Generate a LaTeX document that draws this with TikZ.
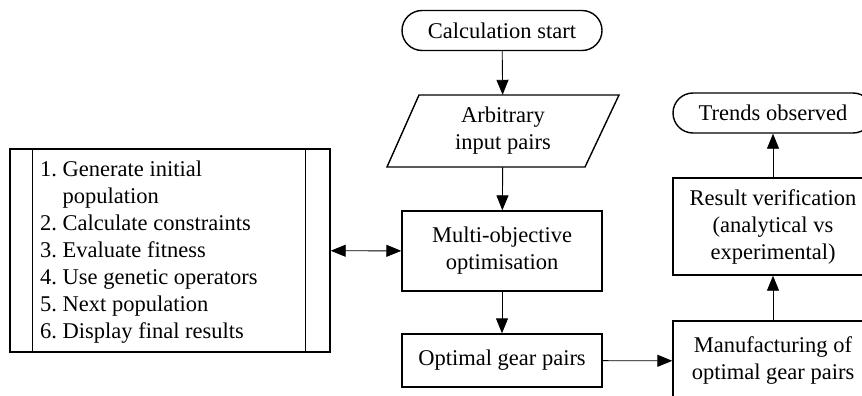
\documentclass[tikz,border=0pt]{standalone}
\usepackage{fontspec}
\setmainfont{Liberation Serif}
\usetikzlibrary{arrows.meta,calc}
\begin{document}
\begin{tikzpicture}[x=1pt,y=-1pt,
  txt/.style={align=center, font=\fontsize{22.5}{27}\selectfont, inner sep=0pt},
  box/.style={txt, draw, line width=1.4pt, minimum width=200pt},
  term/.style={box, rounded corners=20pt, minimum height=40pt},
  conn/.style={line width=0.9pt, -{Triangle[length=15pt,width=12pt]}},
  dconn/.style={line width=0.9pt, {Triangle[length=15pt,width=12pt]}-{Triangle[length=15pt,width=12pt]}}
]
\clip (0,0) rectangle (862,396);
\fill[white] (0,0) rectangle (862,396);
% centre column
\node[term] (start) at (502,30.5) {Calculation start};
\node[txt, minimum width=166pt, minimum height=72pt] (input) at (503,131) {Arbitrary\\input pairs};
\draw[line width=1.4pt, line join=miter] (419,95) -- (619,95) -- (585,167) -- (387,167) -- cycle;
\node[box, minimum height=80pt] (multi) at (502,251) {Multi-objective\\optimisation};
\node[box, minimum height=53pt] (opt) at (502,360.5) {Optimal gear pairs};
% right column
\node[box, minimum height=80pt] (manu) at (773,361) {Manufacturing of\\optimal gear pairs};
\node[box, minimum height=97pt] (res) at (773,226.5) {Result verification\\(analytical vs\\experimental)};
\node[term] (trend) at (773,113) {Trends observed};
% left algorithm box
\node[draw, line width=1.4pt, minimum width=320pt, minimum height=203pt, inner sep=0pt] (alg) at (170,250.5) {};
\draw[line width=1.4pt] ($(alg.north west)+(23,0)$) -- ($(alg.south west)+(23,0)$);
\draw[line width=1.4pt] ($(alg.north east)+(-25,0)$) -- ($(alg.south east)+(-25,0)$);
\node[txt, anchor=west] (steps) at (40,252) {\begin{tabular}{@{}l@{\ }l@{}}
1. & Generate initial\\
   & population\\
2. & Calculate constraints\\
3. & Evaluate fitness\\
4. & Use genetic operators\\
5. & Next population\\
6. & Display final results
\end{tabular}};
% connectors
\draw[conn] (start) -- (input);
\draw[conn] (input) -- (multi);
\draw[conn] (multi) -- (opt);
\draw[conn] (opt) -- (manu);
\draw[conn] (manu) -- (res);
\draw[conn] (res) -- (trend);
\draw[dconn] (alg) -- (multi);
\end{tikzpicture}
\end{document}
